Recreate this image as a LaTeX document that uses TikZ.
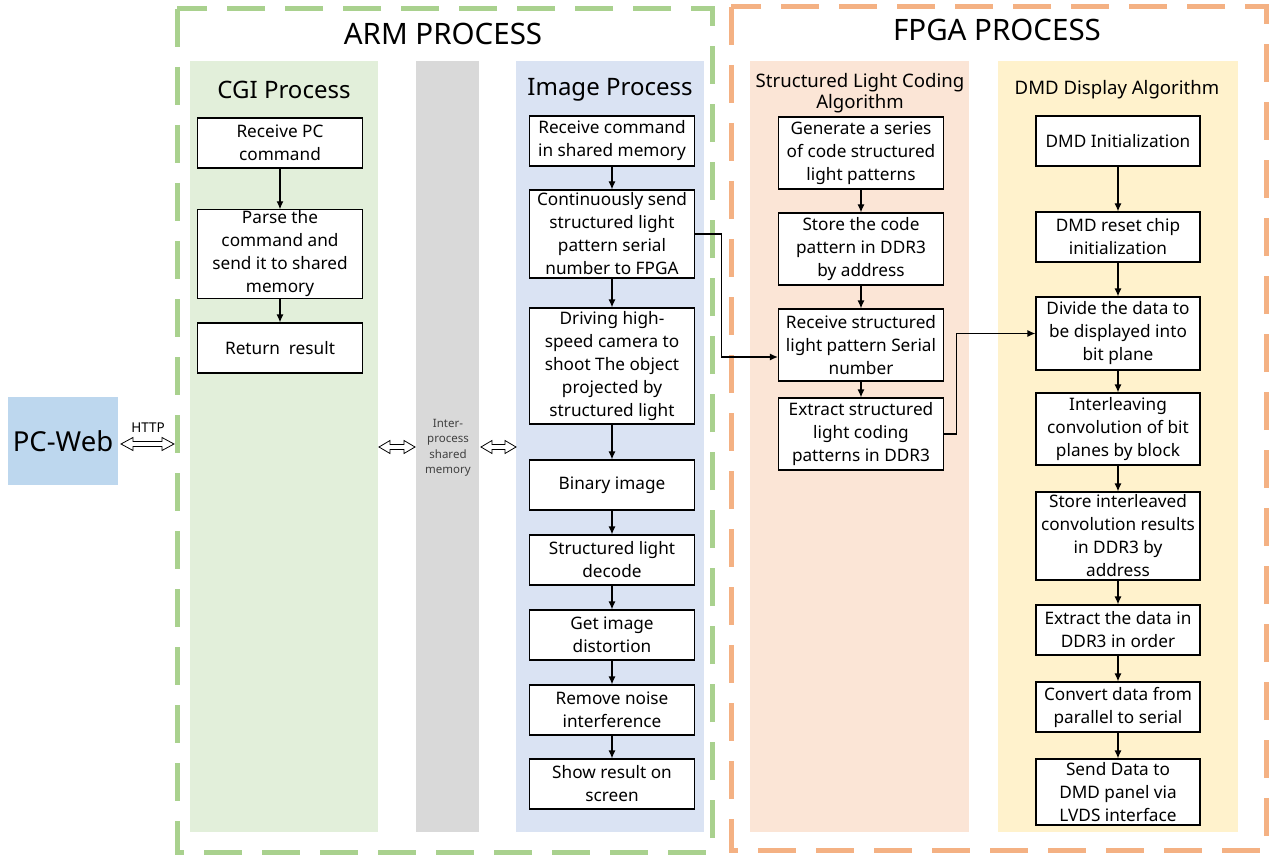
\documentclass[tikz,border=0pt]{standalone}
\usepackage{fontspec}
\setmainfont{Noto Sans}
\usetikzlibrary{arrows.meta}
\definecolor{armgreen}{HTML}{A9D18E}
\definecolor{fpgaorange}{HTML}{F4B183}
\definecolor{cgifill}{HTML}{E2EFDA}
\definecolor{grayfill}{HTML}{D9D9D9}
\definecolor{imgfill}{HTML}{DAE3F3}
\definecolor{slfill}{HTML}{FBE5D6}
\definecolor{dmdfill}{HTML}{FFF2CC}
\definecolor{pcfill}{HTML}{BDD7EE}
\newcommand\hollowdbl[4]{% x1 x2 y headlen
  \draw[fill=white,line width=0.8pt] (#1,#3) -- ++(#4,-6.5) -- ++(0,4) -- (#2-#4,#3-2.5) -- ++(0,-4) -- (#2,#3) -- ++(-#4,6.5) -- ++(0,-4) -- (#1+#4,#3+2.5) -- ++(0,4) -- cycle;}
\begin{document}
\begin{tikzpicture}[x=1pt,y=-1pt,
  box/.style={draw=black, fill=white, line width=1.2pt, align=center, inner sep=1pt,
    font=\fontsize{17.2}{23}\selectfont},
  arr/.style={-{Latex[length=8pt,width=7pt]}, line width=1.2pt},
  dashbox/.style={line width=5pt, dash pattern=on 38pt off 20pt},
  coltitle/.style={font=\fontsize{24}{26}\selectfont},
  coltitlesm/.style={font=\fontsize{18.6}{21}\selectfont, align=center},
  bigtitle/.style={font=\fontsize{29.5}{32}\selectfont}
]
\useasboundingbox (0,0) rectangle (1270,856);
% dashed process frames
\draw[dashbox, armgreen] (177,9) rectangle (712,852);
\draw[dashbox, fpgaorange] (731,7) rectangle (1266,850);
\node[bigtitle] (armt) at (443,34) {ARM PROCESS};
\node[bigtitle] (fpgat) at (997,30) {FPGA PROCESS};
% columns
\fill[cgifill] (190,61) rectangle (378,832);
\fill[grayfill] (416,61) rectangle (479,832);
\fill[imgfill] (516,61) rectangle (704,832);
\fill[slfill] (750,61) rectangle (969,832);
\fill[dmdfill] (998,61) rectangle (1238,832);
\node[coltitle] (cgit) at (284,90) {CGI Process};
\node[coltitle] (imgt) at (610,90) {Image Process};
\node[coltitlesm] (slt) at (860,93) {Structured Light Coding\\Algorithm};
\node[coltitlesm] (dmdt) at (1117,90) {DMD Display Algorithm};
\node[font=\fontsize{11.5}{15.5}\selectfont, text=black!75, align=center] (shm) at (448,448) {Inter-\\process\\shared\\memory};
% PC-Web
\node[fill=pcfill, minimum width=110pt, minimum height=88pt, inner sep=0pt,
  font=\fontsize{27.5}{30}\selectfont] (pc) at (63,441) {PC-Web};
\node[font=\fontsize{13.5}{15}\selectfont] (http) at (148,428) {HTTP};
\hollowdbl{121}{174}{444}{12}
\hollowdbl{379}{415}{447}{11}
\hollowdbl{481}{516}{447}{11}
% CGI process
\node[box, minimum width=165pt, minimum height=50pt] (c1) at (280,143) {Receive PC\\command};
\node[box, minimum width=165pt, minimum height=88pt] (c2) at (280,254) {Parse the\\command and\\send it to shared\\memory};
\node[box, minimum width=165pt, minimum height=50pt] (c3) at (280,348) {Return\ \ result};
\draw[arr] (c1) -- (c2);
\draw[arr] (c2) -- (c3);
% Image process
\node[box, minimum width=165pt, minimum height=50pt] (i1) at (612,141) {Receive command\\in shared memory};
\node[box, minimum width=165pt, minimum height=88pt] (i2) at (612,234) {Continuously send\\structured light\\pattern serial\\number to FPGA};
\node[box, minimum width=165pt, minimum height=116pt] (i3) at (612,366) {Driving high-\\speed camera to\\shoot The object\\projected by\\structured light};
\node[box, minimum width=165pt, minimum height=50pt] (i4) at (612,485) {Binary image};
\node[box, minimum width=165pt, minimum height=50pt] (i5) at (612,560) {Structured light\\decode};
\node[box, minimum width=165pt, minimum height=50pt] (i6) at (612,635) {Get image\\distortion};
\node[box, minimum width=165pt, minimum height=50pt] (i7) at (612,710) {Remove noise\\interference};
\node[box, minimum width=165pt, minimum height=50pt] (i8) at (612,784) {Show result on\\screen};
\foreach \a/\b in {i1/i2,i2/i3,i3/i4,i4/i5,i5/i6,i6/i7,i7/i8}
  \draw[arr] (\a) -- (\b);
% Structured light coding
\node[box, minimum width=165pt, minimum height=72pt] (s1) at (861,153) {Generate a series\\of code structured\\light patterns};
\node[box, minimum width=165pt, minimum height=72pt] (s2) at (861,249) {Store the code\\pattern in DDR3\\by address};
\node[box, minimum width=165pt, minimum height=72pt] (s3) at (861,345) {Receive structured\\light pattern Serial\\number};
\node[box, minimum width=165pt, minimum height=72pt] (s4) at (861,434) {Extract structured\\light coding\\patterns in DDR3};
\foreach \a/\b in {s1/s2,s2/s3,s3/s4}
  \draw[arr] (\a) -- (\b);
% DMD display
\node[box, minimum width=164pt, minimum height=50pt] (d1) at (1118,141) {DMD Initialization};
\node[box, minimum width=164pt, minimum height=50pt] (d2) at (1118,237) {DMD reset chip\\initialization};
\node[box, minimum width=164pt, minimum height=73pt] (d3) at (1118,333.5) {Divide the data to\\be displayed into\\bit plane};
\node[box, minimum width=164pt, minimum height=72pt] (d4) at (1118,429) {Interleaving\\convolution of bit\\planes by block};
\node[box, minimum width=164pt, minimum height=88pt] (d5) at (1118,536) {Store interleaved\\convolution results\\in DDR3 by\\address};
\node[box, minimum width=164pt, minimum height=50pt] (d6) at (1118,630) {Extract the data in\\DDR3 in order};
\node[box, minimum width=164pt, minimum height=50pt] (d7) at (1118,707) {Convert data from\\parallel to serial};
\node[box, minimum width=164pt, minimum height=66pt] (d8) at (1118,792) {Send Data to\\DMD panel via\\LVDS interface};
\foreach \a/\b in {d1/d2,d2/d3,d3/d4,d4/d5,d5/d6,d6/d7,d7/d8}
  \draw[arr] (\a) -- (\b);
% cross connectors
\draw[arr] (i2.east) -- ++(26,0) |- ([yshift=-12pt]s3.west);
\draw[arr] (s4.east) -- ++(12,0) |- (d3.west);
\end{tikzpicture}
\end{document}
